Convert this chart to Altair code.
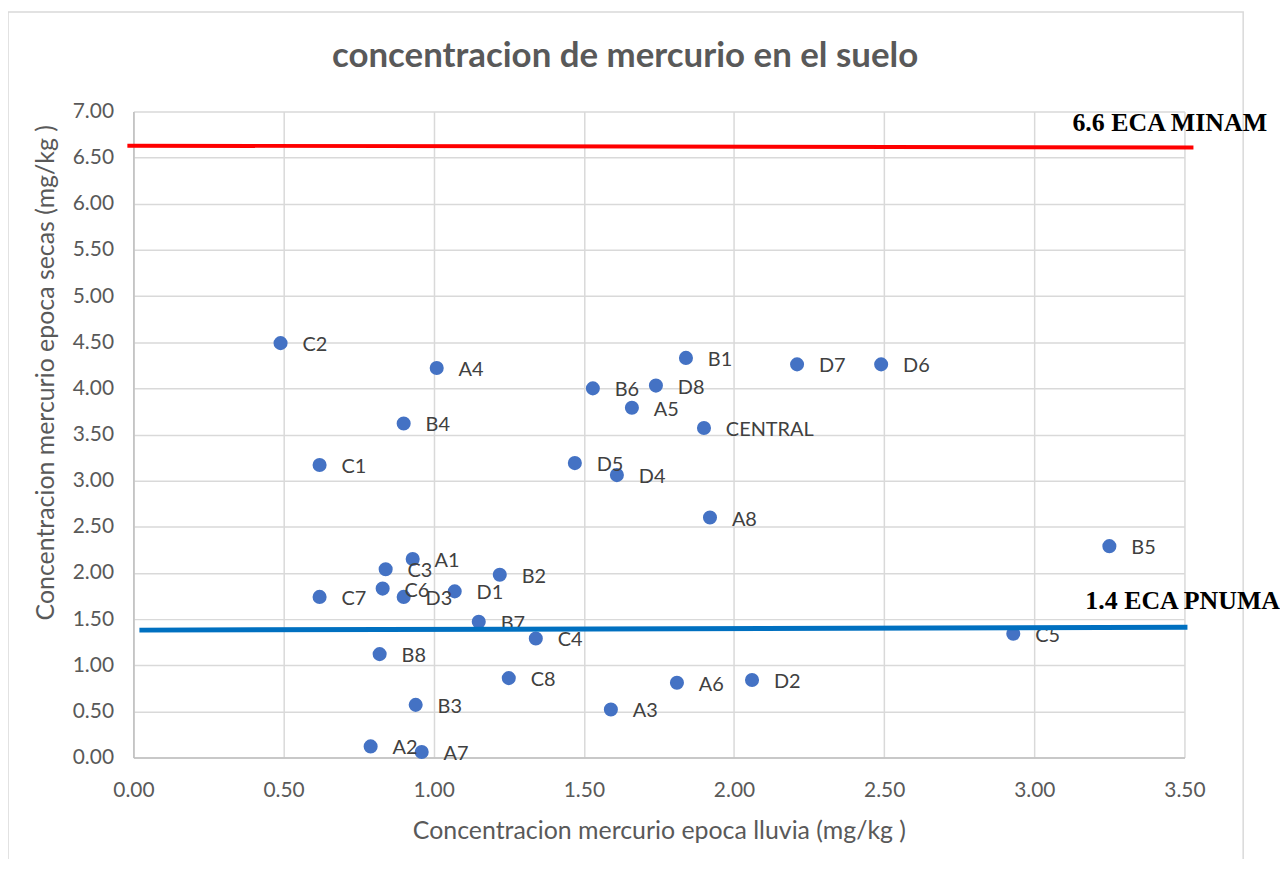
import altair as alt
import pandas as pd

# Data
names = ["C2", "A4", "B4", "C1", "B1", "D7", "D6", "B6", "D8", "A5", "CENTRAL",
         "D5", "D4", "A8", "B5", "C5", "A1", "C3", "C6", "D3", "C7", "D1", "B2",
         "B7", "C4", "B8", "C8", "B3", "A2", "A7", "A3", "A6", "D2"]
lluvia = [0.49, 1.01, 0.90, 0.62, 1.84, 2.21, 2.49, 1.53, 1.74, 1.66, 1.90,
          1.47, 1.61, 1.92, 3.25, 2.93, 0.93, 0.84, 0.83, 0.90, 0.62, 1.07, 1.22,
          1.15, 1.34, 0.82, 1.25, 0.94, 0.79, 0.96, 1.59, 1.81, 2.06]
secas = [4.49, 4.22, 3.62, 3.17, 4.33, 4.26, 4.26, 4.00, 4.03, 3.79, 3.57,
         3.19, 3.06, 2.60, 2.29, 1.34, 2.15, 2.04, 1.83, 1.74, 1.74, 1.80, 1.98,
         1.47, 1.29, 1.12, 0.86, 0.57, 0.12, 0.06, 0.52, 0.81, 0.84]

minam_x = [-0.02, 3.53]
minam_y = [6.63, 6.61]
pnuma_x = [0.02, 3.51]
pnuma_y = [1.38, 1.41]

notes = ["6.6 ECA MINAM", "1.4 ECA PNUMA"]
notes_x = [3.127, 3.17]
notes_y = [6.87, 1.69]

x_ticks = [0, 0.5, 1.0, 1.5, 2.0, 2.5, 3.0, 3.5]
y_ticks = [i * 0.5 for i in range(15)]

df = pd.DataFrame({"name": names, "x": lluvia, "y": secas})
df_minam = pd.DataFrame({"x": minam_x, "y": minam_y})
df_pnuma = pd.DataFrame({"x": pnuma_x, "y": pnuma_y})
df_notes = pd.DataFrame({"t": notes, "x": notes_x, "y": notes_y})

FONT = "Lato"
xscale = alt.Scale(domain=[0, 3.5], nice=False, zero=False)
yscale = alt.Scale(domain=[0, 7], nice=False, zero=False)

xenc = alt.X("x:Q", scale=xscale,
             axis=alt.Axis(values=x_ticks, format=".2f", labelFlush=False,
                           title="Concentracion mercurio epoca lluvia (mg/kg )",
                           ticks=False, labelPadding=22, titlePadding=18))
yenc = alt.Y("y:Q", scale=yscale,
             axis=alt.Axis(values=y_ticks, format=".2f", labelFlush=False,
                           title="Concentracion mercurio epoca secas (mg/kg )",
                           ticks=False, labelPadding=20, titlePadding=14,
                           titleY=262))

frame = alt.Chart(pd.DataFrame({"a": [0]})).mark_rect(
    fill=None, stroke="#d9d9d9", strokeWidth=1.5
).encode(x=alt.value(-126), x2=alt.value(1115), y=alt.value(-100), y2=alt.value(770))

points = alt.Chart(df).mark_circle(size=200, color="#4472C4", opacity=1).encode(x=xenc, y=yenc)

labels = alt.Chart(df).mark_text(
    align="left", baseline="middle", dx=22, dy=2, fontSize=20, font=FONT, color="#404040"
).encode(x="x:Q", y="y:Q", text="name:N")

minam = alt.Chart(df_minam).mark_line(color="#FF0000", strokeWidth=4).encode(x="x:Q", y="y:Q")
pnuma = alt.Chart(df_pnuma).mark_line(color="#0070C0", strokeWidth=5).encode(x="x:Q", y="y:Q")

note_text = alt.Chart(df_notes).mark_text(
    align="left", baseline="middle", fontSize=26, fontWeight="bold",
    font="Liberation Serif", color="#000000"
).encode(x="x:Q", y="y:Q", text="t:N")

chart = alt.layer(frame, points, labels, minam, pnuma, note_text).properties(
    width=1056, height=649,
    autosize=alt.AutoSizeParams(type="none"),
    padding={"left": 126, "top": 102, "right": 96, "bottom": 100},
    title=alt.TitleParams("concentracion de mercurio en el suelo", anchor="middle",
                          frame="group", dx=-34, offset=-63, fontSize=35,
                          fontWeight="bold", font=FONT, color="#595959"),
).configure_view(stroke=None).configure_axis(
    labelFont=FONT, labelFontSize=21, labelColor="#595959",
    titleFont=FONT, titleFontSize=25, titleColor="#595959", titleFontWeight="normal",
    gridColor="#d9d9d9", gridWidth=1.5, domainColor="#bfbfbf", domainWidth=1.5
)

chart.save("out.html", embed_options={"renderer": "svg", "actions": False})
